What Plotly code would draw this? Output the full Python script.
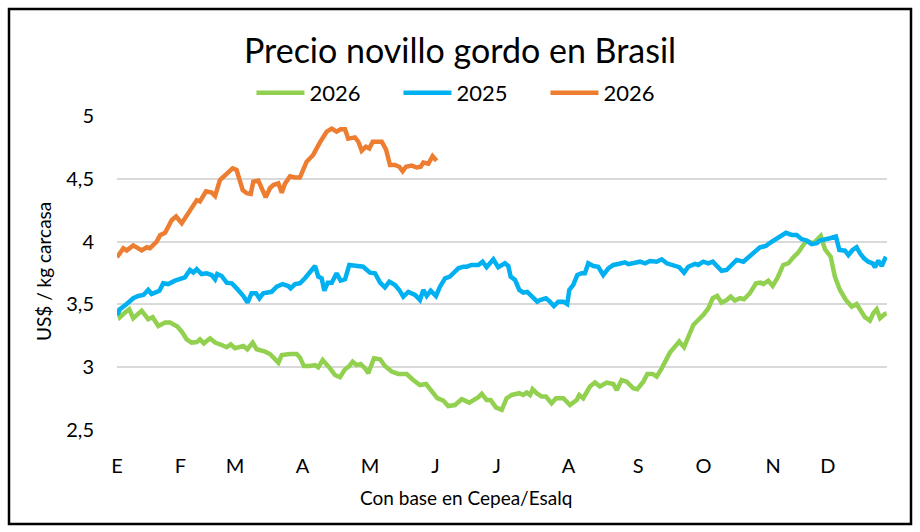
import plotly.graph_objects as go

# x = day of year (0..365), y = US$ / kg carcasa
orange_x = [0, 3.0, 4.6, 7.7, 11.7, 14.1, 15.6, 18.8, 20.4, 22.8, 25.9, 28.0, 30.7, 33.8, 37.8, 39.3,
            42.2, 44.9, 46.5, 48.8, 51.7, 54.8, 56.7, 58.3, 59.6, 61.5, 63.4, 64.6, 67.0, 68.6, 70.5,
            72.5, 74.1, 76.5, 78.1, 79.6, 82.0, 84.4, 86.7, 89.9, 93.0, 96.2, 99.4, 101.8, 104.1,
            106.0, 108.1, 109.6, 112.8, 114.4, 116.0, 118.0, 119.6, 121.2, 123.9, 125.5, 127.5,
            129.4, 131.8, 133.8, 135.4, 137.0, 139.7, 142.1, 144.0, 145.2, 147.6, 149.6, 151.5]
orange_y = [3.875, 3.947, 3.93, 3.97, 3.93, 3.955, 3.947, 4.0, 4.05, 4.07, 4.17, 4.2, 4.146, 4.225,
            4.33, 4.32, 4.40, 4.39, 4.363, 4.49, 4.53, 4.583, 4.57, 4.477, 4.41, 4.385, 4.38, 4.477,
            4.485, 4.425, 4.353, 4.425, 4.45, 4.464, 4.39, 4.46, 4.52, 4.51, 4.51, 4.636, 4.69, 4.79,
            4.875, 4.90, 4.875, 4.894, 4.894, 4.82, 4.83, 4.795, 4.724, 4.756, 4.742, 4.795, 4.79,
            4.795, 4.735, 4.61, 4.61, 4.596, 4.56, 4.596, 4.605, 4.59, 4.596, 4.63, 4.62, 4.68, 4.644]

blue_x = [0, 1.4, 4.6, 7.7, 10.1, 12.5, 14.8, 16.4, 20.1, 21.9, 24.3, 27.5, 32.2, 34.6, 36.2, 37.8,
          40.1, 42.5, 44.9, 46.5, 47.5, 49.6, 52.0, 54.4, 56.7, 59.9, 61.9, 63.8, 65.9, 67.5, 69.3,
          73.3, 75.7, 78.5, 81.2, 82.3, 84.4, 86.7, 89.1, 91.5, 93.9, 95.4, 97.0, 98.3, 99.9, 101.8,
          104.1, 106.0, 108.1, 110.1, 112.8, 116.7, 119.9, 122.3, 124.7, 127.0, 129.1, 131.8, 133.8,
          135.7, 138.1, 141.3, 143.6, 145.2, 146.8, 148.7, 151.2, 153.1, 155.5, 157.8, 159.4, 161.8,
          164.2, 165.8, 168.1, 171.3, 173.3, 175.2, 178.4, 180.7, 183.9, 185.5, 186.6, 188.7, 190.7,
          192.6, 194.5, 196.6, 199.2, 200.5, 203.3, 205.2, 207.1, 209.2, 211.6, 213.4, 214.4, 216.3,
          218.2, 220.3, 221.8, 223.4, 225.8, 228.1, 230.5, 232.9, 235.3, 237.6, 240.8, 242.4, 245.5,
          247.9, 250.3, 252.6, 255.8, 258.2, 260.6, 263.7, 266.5, 268.8, 270.8, 274.0, 275.5, 277.9,
          280.3, 282.4, 284.5, 286.6, 289.0, 291.4, 293.7, 296.9, 300.0, 302.4, 304.8, 307.6, 309.2,
          311.9, 314.3, 317.1, 319.8, 322.2, 324.5, 326.9, 329.3, 331.7, 333.2, 335.6, 338.0, 340.8,
          342.4, 345.1, 346.7, 348.7, 350.6, 352.2, 354.1, 356.1, 358.2, 359.3, 360.9, 362.5, 363.6,
          364.5]
blue_y = [3.416, 3.461, 3.503, 3.549, 3.567, 3.575, 3.615, 3.583, 3.609, 3.668, 3.662, 3.689, 3.716,
          3.774, 3.753, 3.78, 3.742, 3.748, 3.734, 3.70, 3.742, 3.726, 3.673, 3.668, 3.628, 3.567,
          3.514, 3.589, 3.589, 3.549, 3.589, 3.60, 3.641, 3.662, 3.646, 3.628, 3.662, 3.668, 3.708,
          3.76, 3.806, 3.721, 3.708, 3.609, 3.673, 3.673, 3.748, 3.689, 3.70, 3.814, 3.806, 3.80,
          3.753, 3.748, 3.673, 3.636, 3.681, 3.655, 3.615, 3.562, 3.60, 3.575, 3.535, 3.615, 3.567,
          3.609, 3.567, 3.641, 3.708, 3.721, 3.748, 3.787, 3.80, 3.80, 3.814, 3.814, 3.84, 3.796,
          3.859, 3.796, 3.827, 3.806, 3.721, 3.694, 3.615, 3.594, 3.60, 3.567, 3.522, 3.535, 3.549,
          3.522, 3.487, 3.522, 3.522, 3.503, 3.615, 3.655, 3.734, 3.748, 3.748, 3.827, 3.806, 3.80,
          3.734, 3.787, 3.814, 3.822, 3.835, 3.82, 3.827, 3.84, 3.827, 3.846, 3.84, 3.859, 3.827,
          3.806, 3.796, 3.753, 3.80, 3.822, 3.814, 3.84, 3.827, 3.84, 3.806, 3.768, 3.774, 3.814,
          3.854, 3.84, 3.88, 3.92, 3.955, 3.965, 3.987, 4.013, 4.035, 4.07, 4.053, 4.053, 4.02,
          4.008, 3.98, 3.987, 4.008, 4.013, 4.027, 4.04, 3.933, 3.928, 3.893, 3.933, 3.955, 3.907,
          3.867, 3.84, 3.827, 3.796, 3.849, 3.806, 3.84, 3.88]

green_x = [0, 1.4, 3.8, 5.8, 7.7, 11.7, 14.8, 16.9, 19.6, 22.8, 25.1, 28.6, 30.7, 33.0, 35.4, 37.8,
           39.3, 41.2, 44.1, 46.5, 49.6, 52.0, 53.9, 55.9, 59.9, 61.8, 64.3, 66.2, 70.2, 72.5, 76.5,
           78.1, 82.0, 85.2, 86.7, 88.6, 91.5, 93.9, 95.4, 97.5, 101.0, 103.3, 105.7, 108.1, 110.1,
           111.7, 113.6, 115.5, 117.6, 119.1, 121.8, 124.7, 127.0, 130.2, 133.3, 137.3, 140.4, 143.6,
           146.5, 149.2, 151.8, 154.7, 157.0, 160.2, 163.4, 167.0, 169.7, 171.3, 172.9, 175.2, 177.1,
           179.6, 182.4, 184.7, 187.1, 190.7, 192.6, 194.2, 195.8, 197.0, 198.9, 201.3, 203.3, 206.0,
           208.1, 211.6, 214.7, 217.9, 219.1, 221.0, 224.2, 226.6, 228.9, 232.1, 235.3, 236.9, 239.2,
           241.6, 244.7, 246.6, 249.5, 251.4, 253.9, 255.8, 258.2, 260.2, 262.1, 264.5, 266.5, 268.8,
           270.8, 273.2, 275.5, 277.9, 280.3, 282.4, 284.5, 286.6, 289.0, 290.9, 292.9, 295.3, 297.2,
           300.0, 302.9, 305.1, 306.4, 308.7, 310.8, 313.0, 315.8, 318.2, 320.6, 322.9, 325.0, 326.9,
           330.1, 332.0, 333.6, 335.6, 338.3, 340.3, 342.7, 345.5, 348.3, 350.6, 352.2, 354.5, 356.9,
           358.5, 360.1, 361.7, 364.0, 364.8]
green_y = [3.469, 3.398, 3.435, 3.461, 3.39, 3.45, 3.382, 3.398, 3.328, 3.355, 3.355, 3.323, 3.283,
           3.222, 3.196, 3.20, 3.222, 3.19, 3.23, 3.196, 3.177, 3.159, 3.182, 3.151, 3.169, 3.143,
           3.196, 3.143, 3.124, 3.105, 3.036, 3.097, 3.105, 3.105, 3.078, 3.009, 3.009, 3.017, 2.999,
           3.057, 2.991, 2.938, 2.92, 2.984, 3.009, 3.044, 3.017, 3.025, 2.991, 2.952, 3.071, 3.063,
           3.009, 2.965, 2.946, 2.946, 2.898, 2.858, 2.866, 2.805, 2.753, 2.734, 2.691, 2.699, 2.745,
           2.718, 2.739, 2.761, 2.787, 2.739, 2.739, 2.68, 2.66, 2.753, 2.779, 2.793, 2.779, 2.798,
           2.779, 2.825, 2.793, 2.766, 2.766, 2.713, 2.753, 2.753, 2.699, 2.739, 2.779, 2.753, 2.846,
           2.878, 2.846, 2.878, 2.866, 2.818, 2.898, 2.885, 2.832, 2.825, 2.885, 2.946, 2.946, 2.925,
           2.991, 3.057, 3.116, 3.164, 3.204, 3.159, 3.239, 3.336, 3.376, 3.416, 3.469, 3.549, 3.567,
           3.514, 3.535, 3.562, 3.53, 3.549, 3.541, 3.589, 3.668, 3.673, 3.662, 3.689, 3.647, 3.708,
           3.814, 3.827, 3.875, 3.912, 3.965, 4.008, 3.987, 4.018, 4.045, 3.939, 3.88, 3.721, 3.615,
           3.535, 3.482, 3.503, 3.461, 3.398, 3.371, 3.429, 3.461, 3.39, 3.424, 3.429]

month_pos = [0, 30, 56, 88, 120, 151, 180, 214, 247, 278, 311, 337]
month_labels = ["E", "F", "M", "A", "M", "J", "J", "A", "S", "O", "N", "D"]
y_ticks = [2.5, 3, 3.5, 4, 4.5, 5]
y_labels = ["2,5", "3", "3,5", "4", "4,5", "5"]

FONT = "Lato"
fig = go.Figure()
fig.add_trace(go.Scatter(x=green_x, y=green_y, mode="lines", name="2026",
                         line=dict(color="#92D050", width=4.5)))
fig.add_trace(go.Scatter(x=blue_x, y=blue_y, mode="lines", name="2025",
                         line=dict(color="#00B0F0", width=4.5)))
fig.add_trace(go.Scatter(x=orange_x, y=orange_y, mode="lines", name="2026",
                         line=dict(color="#ED7D31", width=4.5)))

fig.update_layout(
    width=920, height=532,
    margin=dict(l=117, r=33, t=116, b=102, autoexpand=False),
    paper_bgcolor="white", plot_bgcolor="white",
    font=dict(family=FONT, color="black", size=20),
    title=dict(text="Precio novillo gordo en Brasil", x=0.5, xref="container", xanchor="center",
               y=1 - 51 / 532, yref="container", yanchor="middle",
               font=dict(family=FONT, size=34, color="black")),
    legend=dict(orientation="h", xref="container", x=0.513, xanchor="center",
                yref="container", y=1 - 93 / 532, yanchor="middle",
                font=dict(family=FONT, size=22, color="black"), itemwidth=48,
                entrywidth=84, bgcolor="rgba(0,0,0,0)"),
    showlegend=True,
    xaxis=dict(range=[0, 365], tickvals=month_pos, ticktext=month_labels, showgrid=False,
               zeroline=False, showline=False, ticks="", ticklabelstandoff=22,
               tickfont=dict(family=FONT, size=20, color="black"), fixedrange=True),
    yaxis=dict(range=[2.5, 5], tickvals=y_ticks, ticktext=y_labels, showgrid=True,
               gridcolor="#D9D9D9", gridwidth=1.5, zeroline=False, showline=False, ticks="",
               ticklabelstandoff=22, tickfont=dict(family=FONT, size=20, color="black"),
               fixedrange=True),
    annotations=[
        dict(text="US$ / kg carcasa", xref="paper", yref="paper", x=(43 - 117) / 770,
             y=(430 - 272) / 314, textangle=-90, showarrow=False, xanchor="center",
             yanchor="middle", font=dict(family=FONT, size=19, color="black")),
        dict(text="Con base en Cepea/Esalq", xref="paper", yref="paper", x=(466 - 117) / 770,
             y=(430 - 497) / 314, showarrow=False, xanchor="center", yanchor="middle",
             font=dict(family=FONT, size=19, color="black")),
    ],
    shapes=[dict(type="rect", xref="paper", yref="paper", x0=(9 - 117) / 770, x1=(911 - 117) / 770,
                 y0=(430 - 524) / 314, y1=(430 - 9) / 314, line=dict(color="black", width=2.5),
                 fillcolor="rgba(0,0,0,0)", layer="below")],
)

fig.write_html("out.html")
